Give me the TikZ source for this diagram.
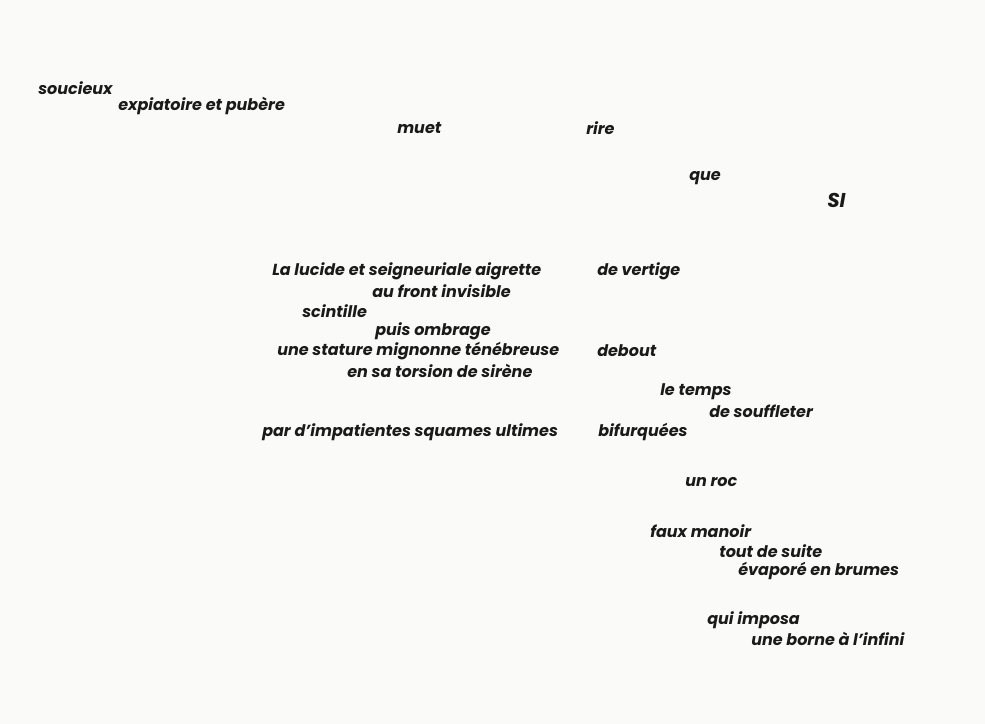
\documentclass[tikz,border=0pt]{standalone}
\usepackage{fontspec}
\setmainfont{Poppins}
\definecolor{bg}{HTML}{FAFAF8}
\definecolor{ink}{HTML}{1A1A1A}
\begin{document}
\begin{tikzpicture}[x=0.75pt,y=-0.75pt,
  verse/.style={anchor=west,inner sep=0pt,text=ink,font=\fontsize{12}{14}\selectfont\bfseries\itshape}]
\fill[bg] (0,0) rectangle (985,724);
\useasboundingbox (0,0) rectangle (985,724);
\node[verse] (a1) at (38,88) {soucieux};
\node[verse] (a2) at (118,106) {expiatoire et pubère};
\node[verse] (a3) at (397,128) {muet};
\node[verse] (a4) at (586,128) {rire};
\node[verse] (a5) at (689,178) {que};
\node[verse,font=\fontsize{15}{17}\selectfont\bfseries\itshape] (a6) at (827,200) {SI};
\node[verse] (b1) at (272,271) {La lucide et seigneuriale aigrette};
\node[verse] (b2) at (597,271) {de vertige};
\node[verse] (b3) at (372,291) {au front invisible};
\node[verse] (b4) at (302,311) {scintille};
\node[verse] (b5) at (375,331) {puis ombrage};
\node[verse] (b6) at (277,351) {une stature mignonne ténébreuse};
\node[verse] (b7) at (597,351) {debout};
\node[verse] (b8) at (347,371) {en sa torsion de sirène};
\node[verse] (c1) at (660,392) {le temps};
\node[verse] (c2) at (709,411) {de souffleter};
\node[verse] (c3) at (262,432) {par d'impatientes squames ultimes};
\node[verse] (c4) at (598,432) {bifurquées};
\node[verse] (d1) at (685,482) {un roc};
\node[verse] (d2) at (650,531) {faux manoir};
\node[verse] (d3) at (719,551) {tout de suite};
\node[verse] (d4) at (738,571) {évaporé en brumes};
\node[verse] (e1) at (707,620) {qui imposa};
\node[verse] (e2) at (751,639) {une borne à l'infini};
\end{tikzpicture}
\end{document}
